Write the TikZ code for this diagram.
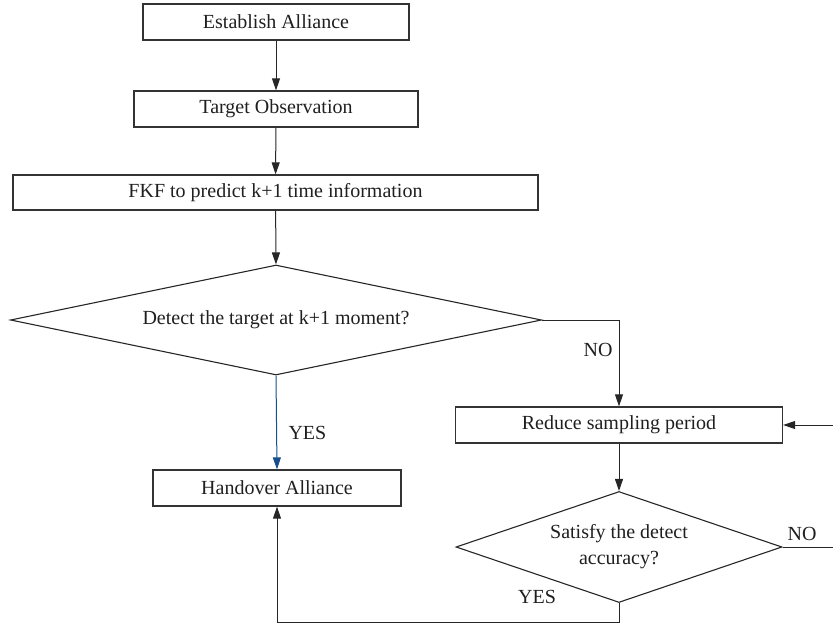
\documentclass[tikz,border=0pt]{standalone}
\usepackage{fontspec}
\setmainfont{Liberation Serif}
\usetikzlibrary{shapes.geometric,arrows.meta}

\definecolor{yesblue}{RGB}{24,78,140}

\begin{document}
\begin{tikzpicture}[
  x=1pt, y=-1pt,
  line join=miter,
  every node/.style={font=\fontsize{20}{26}\selectfont, text=black!88},
  box/.style={draw=black!80, line width=1.3pt, inner sep=0pt,
    minimum height=36pt},
  decision/.style={draw=black!85, line width=1.1pt, diamond, inner sep=0pt,
    align=center},
  flow/.style={draw=black!85, line width=1pt,
    -{Triangle[length=12pt,width=8pt]}}
]
  % Рамка рисунка
  \useasboundingbox (0,0) rectangle (833,627);

  % Левая колонка: прямоугольные блоки
  \node[box, minimum width=266pt] (estab)  at (276,22)    {Establish Alliance};
  \node[box, minimum width=284pt] (observ) at (276,109)   {Target Observation};
  \node[box, minimum width=525pt, minimum height=35pt]
                                  (fkf)    at (275.5,192.5)
    {FKF to predict k+1 time information};

  % Первое условие
  \node[decision, aspect=4.8, minimum width=531pt, minimum height=110pt]
    (detect) at (276,320) {Detect the target at k+1 moment?};

  \node[box, minimum width=248pt] (handover) at (277,488) {Handover Alliance};

  % Правая колонка
  \node[box, minimum width=327pt] (reduce) at (619,425) {Reduce sampling period};

  \node[decision, aspect=2.9, minimum width=326pt, minimum height=111pt]
    (satisfy) at (619,547) {Satisfy the detect\\accuracy?};

  % Вспомогательные точки для изломов и свободных концов
  \coordinate (turnNo)  at (619,320);
  \coordinate (inRight) at (833,425);
  \coordinate (outNo)   at (833,547);
  \coordinate (turnA)   at (619,622);
  \coordinate (turnB)   at (277,622);

  % Основная вертикаль
  \draw[flow] (estab) -- (observ);
  \draw[flow] (observ) -- (fkf);
  \draw[flow] (fkf) -- (detect.north);

  % Ветка YES (синяя)
  \draw[flow, draw=yesblue] (detect.south) -- (handover.north);

  % Ветка NO
  \draw[flow] (detect.east) -- (turnNo) -- (reduce.north);
  \draw[flow] (reduce.south) -- (satisfy.north);
  \draw[flow] (inRight) -- (reduce.east);
  \draw[draw=black!85, line width=1pt] (satisfy.east) -- (outNo);

  % Возврат к передаче альянса
  \draw[flow] (satisfy.south) -- (turnA) -- (turnB) -- (handover.south);

  % Подписи ветвей
  \node[anchor=west]  at (285,433) {YES};
  \node[anchor=east]  at (616,350) {NO};
  \node                at (802,534) {NO};
  \node                at (537,597) {YES};
\end{tikzpicture}
\end{document}
